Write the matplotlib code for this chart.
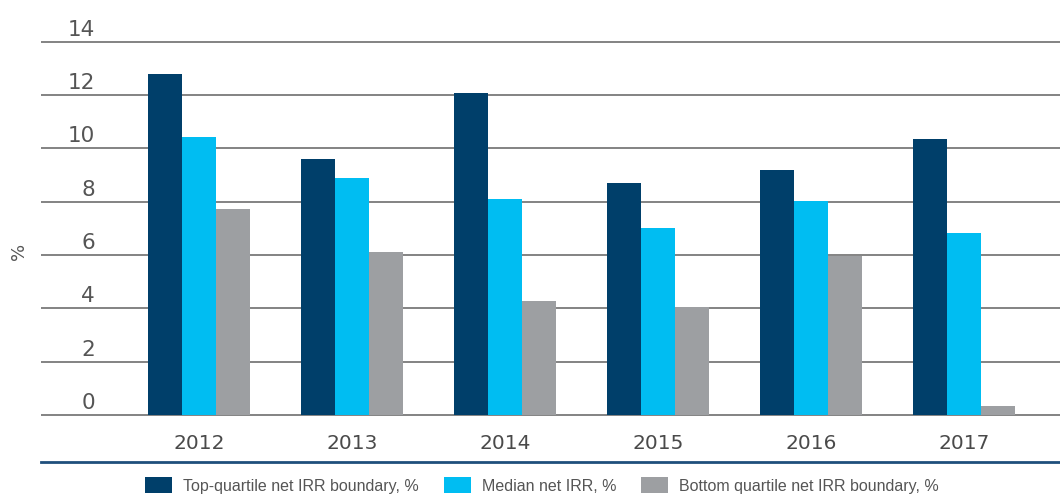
import matplotlib
matplotlib.use("Agg")
import matplotlib.pyplot as plt
import matplotlib.transforms as mtransforms
from matplotlib.patches import Patch
from matplotlib.lines import Line2D
import numpy as np

years = ["2012", "2013", "2014", "2015", "2016", "2017"]
top_quartile = [12.79, 9.60, 12.09, 8.71, 9.19, 10.36]
median_irr = [10.41, 8.89, 8.10, 7.01, 8.02, 6.84]
bottom_quartile = [7.71, 6.11, 4.27, 4.06, 5.96, 0.34]
series_labels = ["Top-quartile net IRR boundary, %", "Median net IRR, %",
                 "Bottom quartile net IRR boundary, %"]
colors = ["#003f6a", "#00bdf2", "#9d9fa2"]
yticks = [0, 2, 4, 6, 8, 10, 12, 14]

W, H = 1060, 502
fig = plt.figure(figsize=(W / 100, H / 100), dpi=100)
ax = fig.add_axes([41 / W, 1 - 417.3 / H, 1 - 41 / W, 377.3 / H])

x = np.arange(len(years))
bw = 34 / 153
for i, (vals, c) in enumerate(zip([top_quartile, median_irr, bottom_quartile], colors)):
    ax.bar(x + (i - 1) * bw, vals, width=bw, color=c, edgecolor="none", zorder=3)

ax.set_xlim(-158 / 153, 5 + 96 / 153)
ax.set_ylim(-0.05, 14.1)
ax.set_yticks(yticks)
ax.set_yticklabels([])
ax.tick_params(axis="y", length=0)
ax.yaxis.grid(True, color="#6e6e6e", linewidth=1.2, zorder=1)
for s in ax.spines.values():
    s.set_visible(False)

ax.set_xticks(x)
ax.set_xticklabels(years, fontsize=14.5, color="#4a4a4a", family="DejaVu Sans")
ax.tick_params(axis="x", length=0, pad=12)

# y tick labels sitting above the grid lines
trans = mtransforms.blended_transform_factory(ax.transAxes, ax.transData)
off = mtransforms.ScaledTranslation(0, 7 / 100, fig.dpi_scale_trans)
for v in yticks:
    ax.text(54 / 1019, v, str(v), transform=trans + off, ha="right", va="baseline",
            fontsize=15.5, color="#555555", family="DejaVu Sans")

fig.text(19 / W, 1 - 251 / H, "%", rotation=90, ha="center", va="center",
         fontsize=13, color="#555555")

# bottom rule
fig.add_artist(Line2D([41 / W, 1.0], [1 - 463 / H, 1 - 463 / H], color="#1f4f7c",
                      linewidth=2, transform=fig.transFigure))

handles = [Patch(facecolor=c, edgecolor="none") for c in colors]
fs = 11.5
px = fs * 100 / 72
leg = fig.legend(handles, series_labels, loc="center", ncol=3, frameon=False,
                 bbox_to_anchor=(542 / W, 1 - 486 / H),
                 prop={"family": ["Liberation Sans", "DejaVu Sans"], "size": fs},
                 handlelength=27 / px, handleheight=19 / px, handletextpad=11 / px,
                 columnspacing=25 / px, borderpad=0, borderaxespad=0)
for t in leg.get_texts():
    t.set_color("#555555")

fig.savefig("out.png", dpi=100)
